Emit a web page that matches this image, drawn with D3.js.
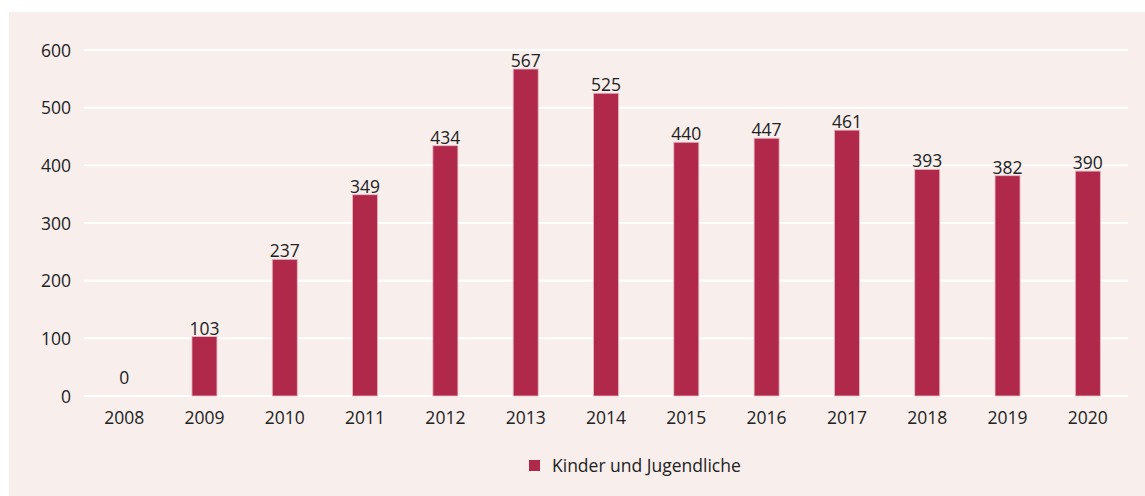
<!DOCTYPE html>
<html>
<head>
<meta charset="utf-8">
<script src="https://cdn.jsdelivr.net/npm/d3@7"></script>
<style>
    body { margin: 0; background: #ffffff; }
    svg text { font-family: "Open Sans", "Noto Sans", sans-serif; fill: #222222; }
</style>
</head>
<body>
<div id="chart"></div>
<script>
// chart data
var years = ["2008", "2009", "2010", "2011", "2012", "2013", "2014",
    "2015", "2016", "2017", "2018", "2019", "2020"];
var values = [0, 103, 237, 349, 434, 567, 525, 440, 447, 461, 393, 382, 390];
var yTicks = [0, 100, 200, 300, 400, 500, 600];
var seriesName = "Kinder und Jugendliche";

var width = 1145, height = 496;
var barColor = "#b0284a";
var fontSize = "17.5px";

var svg = d3.select("#chart")
    .append("svg")
    .attr("width", width)
    .attr("height", height);

// background panel
svg.append("rect")
    .attr("x", 9)
    .attr("y", 12)
    .attr("width", width - 9)
    .attr("height", height - 12)
    .attr("fill", "#f8eeec");

var x = d3.scaleBand()
    .domain(years)
    .range([84, 1128]);

var y = d3.scaleLinear()
    .domain([0, 600])
    .range([396, 50]);

// gridlines
svg.append("g")
    .selectAll("line")
    .data(yTicks)
    .enter()
    .append("line")
    .attr("x1", 84)
    .attr("x2", 1128)
    .attr("y1", function (d) { return y(d); })
    .attr("y2", function (d) { return y(d); })
    .attr("stroke", "#ffffff")
    .attr("stroke-width", 2);

// y axis labels
var yaxis = svg.append("g")
    .attr("transform", "translate(71,0)")
    .call(d3.axisLeft(y).tickValues(yTicks).tickSize(0).tickPadding(0));
yaxis.select("path").remove();
yaxis.selectAll("text")
    .attr("font-size", fontSize)
    .attr("dy", "0.35em");

// x axis labels
var xaxis = svg.append("g")
    .attr("transform", "translate(0,412)")
    .call(d3.axisBottom(x).tickSize(0).tickPadding(0));
xaxis.select("path").remove();
xaxis.selectAll("text")
    .attr("font-size", fontSize)
    .attr("dy", "0.71em");

var barW = 25;

// bars
svg.append("g")
    .selectAll("rect")
    .data(values)
    .enter()
    .append("rect")
    .attr("x", function (d, i) { return x(years[i]) + x.bandwidth() / 2 - barW / 2; })
    .attr("y", function (d) { return y(d); })
    .attr("width", barW)
    .attr("height", function (d) { return y(0) - y(d); })
    .attr("fill", barColor)
    .attr("stroke", "#e8b9c3")
    .attr("stroke-width", function (d) { return d > 0 ? 0.8 : 0; });

// value labels
svg.append("g")
    .selectAll("text")
    .data(values)
    .enter()
    .append("text")
    .attr("x", function (d, i) { return x(years[i]) + x.bandwidth() / 2; })
    .attr("y", function (d) { return d > 0 ? y(d) - 2 : y(d) - 12; })
    .attr("text-anchor", "middle")
    .attr("font-size", fontSize)
    .text(function (d) { return d; });

// legend
var legend = svg.append("g")
    .attr("transform", "translate(529,460)");
legend.append("rect")
    .attr("width", 11)
    .attr("height", 11)
    .attr("fill", barColor);
legend.append("text")
    .attr("x", 23)
    .attr("y", 12)
    .attr("font-size", fontSize)
    .text(seriesName);
</script>
</body>
</html>
